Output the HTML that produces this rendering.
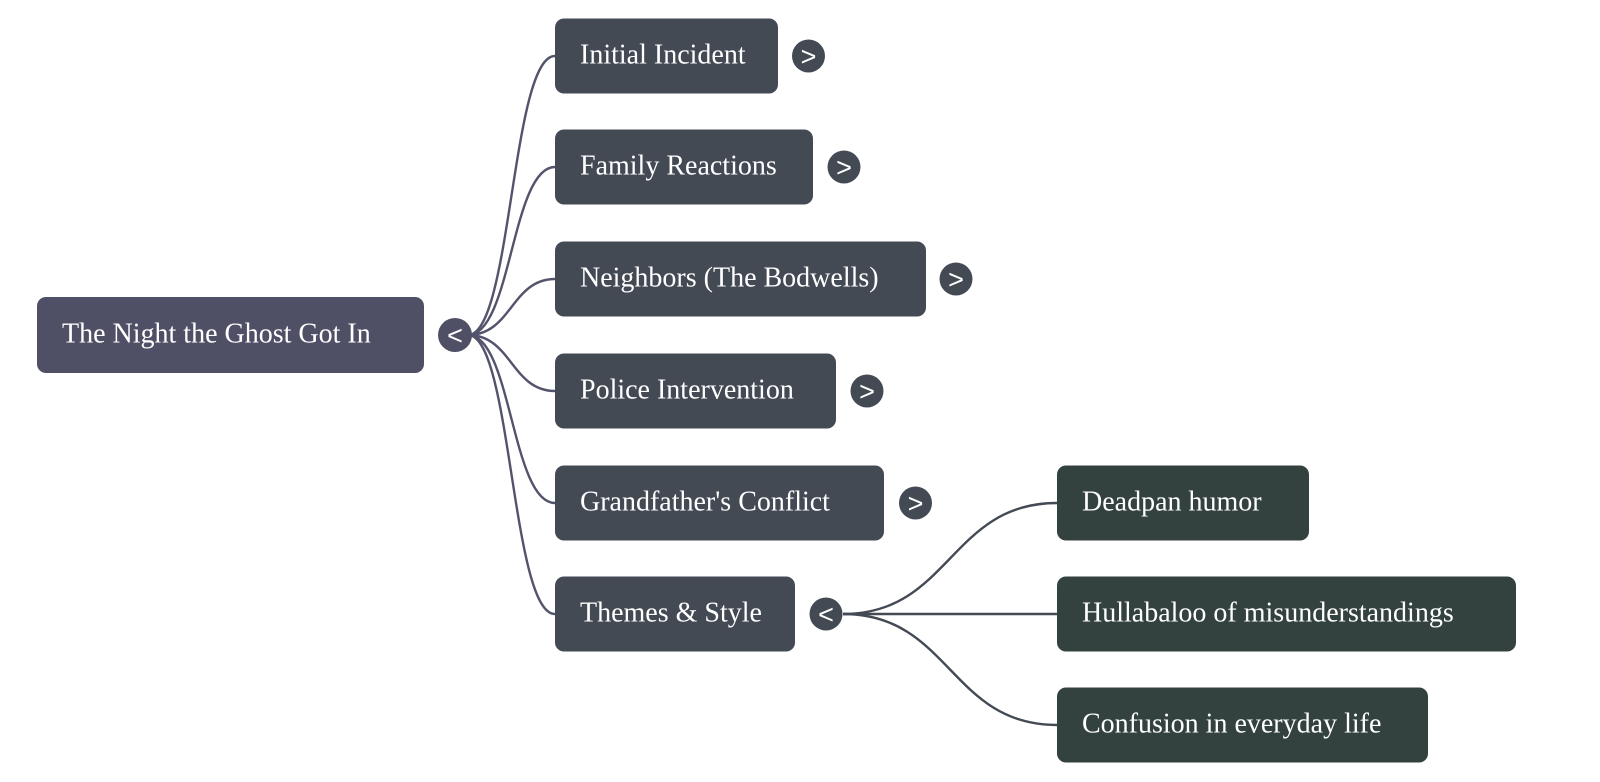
<!DOCTYPE html>
<html>
<head>
<meta charset="utf-8">
<style>
  html, body { margin: 0; padding: 0; background: #ffffff; }
  body { width: 1600px; height: 782px; overflow: hidden; }
  svg { display: block; }
  .t { font-family: "Liberation Serif", "DejaVu Serif", serif; font-size: 28px; fill: #ffffff; }
  .c { font-family: "Liberation Sans", "DejaVu Sans", sans-serif; font-size: 27px; fill: #ffffff; text-anchor: middle; }
</style>
</head>
<body>
<svg width="1600" height="782" viewBox="0 0 1600 782" xmlns="http://www.w3.org/2000/svg">
  <!-- root connectors -->
  <g fill="none" stroke="#53546c" stroke-width="2.4">
    <path d="M 468 335 C 511.5 335, 511.5 56, 555 56"/>
    <path d="M 468 335 C 511.5 335, 511.5 167, 555 167"/>
    <path d="M 468 335 C 511.5 335, 511.5 279, 555 279"/>
    <path d="M 468 335 C 511.5 335, 511.5 391, 555 391"/>
    <path d="M 468 335 C 511.5 335, 511.5 503, 555 503"/>
    <path d="M 468 335 C 511.5 335, 511.5 614, 555 614"/>
  </g>
  <!-- sub connectors -->
  <g fill="none" stroke="#434a54" stroke-width="2.4">
    <path d="M 843 614 C 950 614, 950 503, 1057 503"/>
    <path d="M 843 614 L 1057 614"/>
    <path d="M 843 614 C 950 614, 950 725, 1057 725"/>
  </g>

  <!-- root node -->
  <rect x="37" y="297" width="387" height="76" rx="9" fill="#4f5066"/>
  <text class="t" x="62" y="342.5">The Night the Ghost Got In</text>
  <circle cx="455" cy="335" r="17" fill="#4f5066"/>
  <text class="c" x="455" y="344.5">&lt;</text>

  <!-- level 1 nodes -->
  <g fill="#434a54">
    <rect x="555" y="18.5" width="223" height="75" rx="9"/>
    <rect x="555" y="129.5" width="258" height="75" rx="9"/>
    <rect x="555" y="241.5" width="371" height="75" rx="9"/>
    <rect x="555" y="353.5" width="281" height="75" rx="9"/>
    <rect x="555" y="465.5" width="329" height="75" rx="9"/>
    <rect x="555" y="576.5" width="240" height="75" rx="9"/>
    <circle cx="808.5" cy="56" r="16.5"/>
    <circle cx="844" cy="167" r="16.5"/>
    <circle cx="956" cy="279" r="16.5"/>
    <circle cx="867" cy="391" r="16.5"/>
    <circle cx="915.5" cy="503" r="16.5"/>
    <circle cx="826" cy="614" r="16.5"/>
  </g>
  <text class="t" x="580" y="63.5">Initial Incident</text>
  <text class="t" x="580" y="174.5">Family Reactions</text>
  <text class="t" x="580" y="286.5">Neighbors (The Bodwells)</text>
  <text class="t" x="580" y="398.5">Police Intervention</text>
  <text class="t" x="580" y="510.5">Grandfather's Conflict</text>
  <text class="t" x="580" y="621.5">Themes &amp; Style</text>

  <text class="c" x="808.5" y="65.5">&gt;</text>
  <text class="c" x="844" y="176.5">&gt;</text>
  <text class="c" x="956" y="288.5">&gt;</text>
  <text class="c" x="867" y="400.5">&gt;</text>
  <text class="c" x="915.5" y="512.5">&gt;</text>
  <text class="c" x="826" y="623.5">&lt;</text>

  <!-- level 2 nodes -->
  <g fill="#33423f">
    <rect x="1057" y="465.5" width="252" height="75" rx="9"/>
    <rect x="1057" y="576.5" width="459" height="75" rx="9"/>
    <rect x="1057" y="687.5" width="371" height="75" rx="9"/>
  </g>
  <text class="t" x="1082" y="510.5">Deadpan humor</text>
  <text class="t" x="1082" y="621.5">Hullabaloo of misunderstandings</text>
  <text class="t" x="1082" y="732.5">Confusion in everyday life</text>
</svg>
</body>
</html>
